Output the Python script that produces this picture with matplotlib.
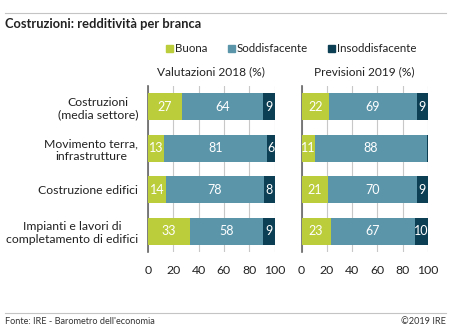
import matplotlib
matplotlib.use("Agg")
import matplotlib.pyplot as plt
from matplotlib.patches import Rectangle
from matplotlib.lines import Line2D

categories = ["Costruzioni\n(media settore)", "Movimento terra,\ninfrastrutture",
              "Costruzione edifici", "Impianti e lavori di\ncompletamento di edifici"]
series_names = ["Buona", "Soddisfacente", "Insoddisfacente"]
buona_2018 = [27, 13, 14, 33]
sodd_2018 = [64, 81, 78, 58]
insod_2018 = [9, 6, 8, 9]
buona_2019 = [22, 11, 21, 23]
sodd_2019 = [69, 88, 70, 67]
insod_2019 = [9, 1, 9, 10]
panel_titles = ["Valutazioni 2018 (%)", "Previsioni 2019 (%)"]
xticks = [0, 20, 40, 60, 80, 100]
colors = ["#bccd3b", "#5b95aa", "#0d3f54"]

plt.rcParams['font.family'] = ['Lato', 'DejaVu Sans']

W, H = 449, 328
fig = plt.figure(figsize=(W / 100, H / 100), dpi=100)

def fx(px):
    return px / W

def fy(py):
    return 1 - py / H

# top and bottom rules
fig.add_artist(Line2D([fx(5), fx(446)], [fy(13), fy(13)], color="#c4c4c4", lw=0.8))
fig.add_artist(Line2D([fx(5), fx(446)], [fy(313), fy(313)], color="#c4c4c4", lw=0.8))
fig.text(fx(5), fy(24), "Costruzioni: redditività per branca", fontsize=9.3,
         fontweight="bold", va="center", ha="left", color="#222222")
fig.text(fx(5), fy(321), "Fonte: IRE - Barometro dell'economia", fontsize=6.6,
         va="center", ha="left", color="#333333")
fig.text(fx(446), fy(321), "©2019 IRE", fontsize=6.6, va="center", ha="right", color="#333333")

# legend
leg_x = [166, 228, 328]
for name, c, x in zip(series_names, colors, leg_x):
    fig.add_artist(Rectangle((fx(x), fy(52)), fx(7), 7 / H, color=c, transform=fig.transFigure))
    fig.text(fx(x + 9), fy(48.5), name, fontsize=8.3, va="center", ha="left", color="#222222")

data = [(buona_2018, sodd_2018, insod_2018), (buona_2019, sodd_2019, insod_2019)]
lefts = [148, 301.5]
axw = 126.5
top, bot = 86, 252
for i, (vals, x0, title) in enumerate(zip(data, lefts, panel_titles)):
    ax = fig.add_axes([fx(x0), fy(bot), axw / W, (bot - top) / H])
    y = list(range(len(categories)))
    left = [0] * len(categories)
    for s, (v, c) in enumerate(zip(vals, colors)):
        ax.barh(y, v, left=left, height=0.66, color=c, edgecolor="none", zorder=3)
        for yy, l, vv in zip(y, left, v):
            if vv >= 3:
                ax.text(l + vv / 2, yy, str(vv), ha="center", va="center",
                        color="white", fontsize=9, zorder=4)
        left = [a + b for a, b in zip(left, v)]
    ax.set_xlim(0, 100)
    ax.set_ylim(len(categories) - 0.5, -0.5)
    ax.set_xticks(xticks)
    ax.set_xticklabels([str(t) for t in xticks], fontsize=8.8, color="#222222")
    ax.tick_params(axis="x", length=0, pad=9)
    ax.tick_params(axis="y", length=0)
    ax.grid(axis="x", color="#c8c8c8", lw=0.8, zorder=0)
    for sp in ["top", "right", "bottom"]:
        ax.spines[sp].set_visible(False)
    ax.spines["left"].set_color("#666666")
    ax.spines["left"].set_linewidth(1.2)
    ax.set_yticks(y)
    if i == 0:
        ax.set_yticklabels(categories, fontsize=8.8, color="#222222", multialignment="center")
        ax.tick_params(axis="y", pad=7)
    else:
        ax.set_yticklabels([])
    ax.set_facecolor("none")
    fig.text(fx(x0 + axw / 2), fy(72), title, fontsize=8.6, ha="center", va="center", color="#222222")

fig.savefig("out.png", dpi=100)
